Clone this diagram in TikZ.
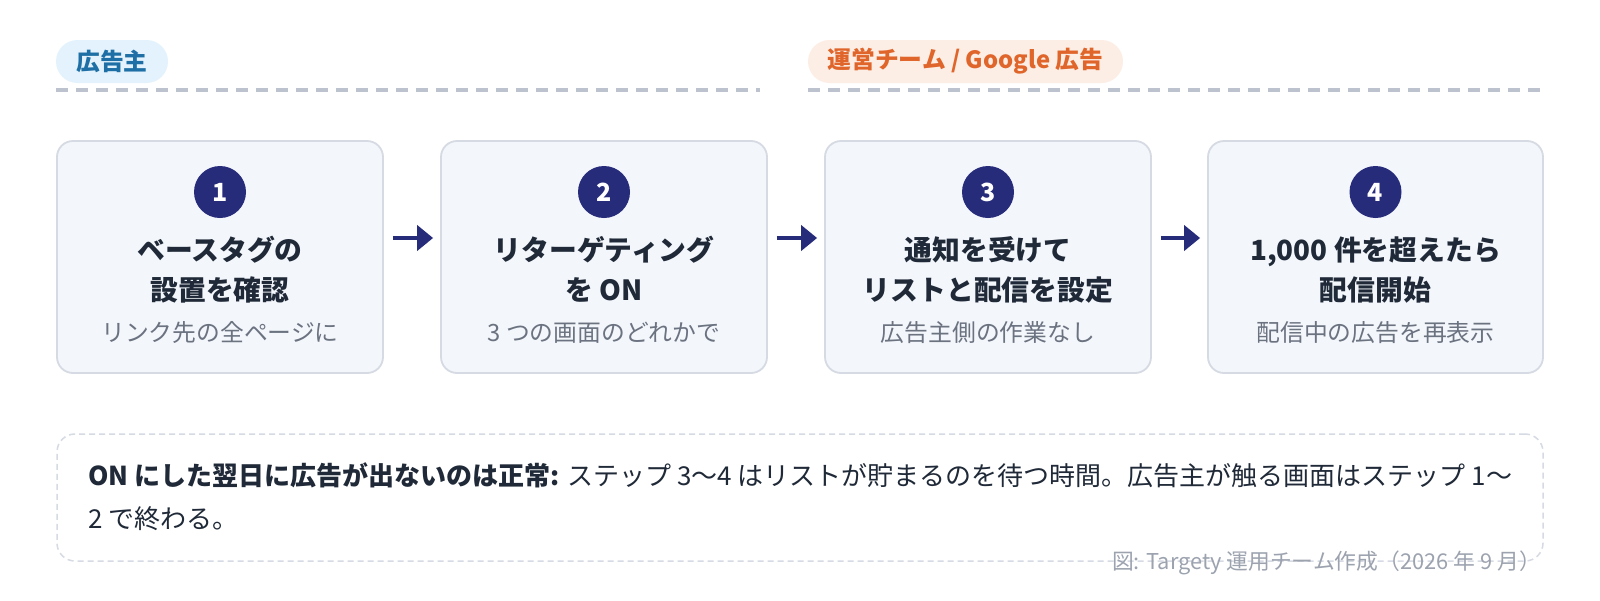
\documentclass[tikz,border=0pt]{standalone}
\usepackage{fontspec}
\setmainfont{Noto Sans CJK JP}
\usetikzlibrary{arrows.meta}
\definecolor{navy}{HTML}{262B7A}
\definecolor{ink}{HTML}{1F2937}
\definecolor{muted}{HTML}{6B7280}
\definecolor{capgray}{HTML}{9CA3AF}
\definecolor{boxfill}{HTML}{F3F6FB}
\definecolor{boxline}{HTML}{D5DAE3}
\definecolor{laneline}{HTML}{BCC3CE}
\definecolor{pillbluebg}{HTML}{E3F2FC}
\definecolor{pillbluetx}{HTML}{1D6FA5}
\definecolor{pillorgbg}{HTML}{FDEEE5}
\definecolor{pillorgtx}{HTML}{E0652B}
\tikzset{
  stepbox/.style={draw=boxline, line width=1.8pt, fill=boxfill, rounded corners=16pt,
    minimum height=232pt, inner sep=0pt},
  numdot/.style={circle, fill=navy, minimum size=52pt, inner sep=0pt, text=white,
    font=\bfseries\fontsize{25pt}{27pt}\selectfont},
  ttl/.style={anchor=base, text=ink, inner sep=0pt, font=\bfseries\fontsize{27.8pt}{30pt}\selectfont},
  subttl/.style={anchor=base, text=muted, inner sep=0pt, font=\fontsize{23.8pt}{26pt}\selectfont},
  flow/.style={draw=navy, line width=4pt, -{Triangle[length=16pt,width=25pt]}},
  pill/.style={rounded corners=21.5pt, minimum height=43pt, inner sep=0pt,
    font=\bfseries\fontsize{23.8pt}{26pt}\selectfont},
  laneline/.style={draw=laneline, line width=3.3pt, dash pattern=on 11.5pt off 8.5pt},
  notebox/.style={draw=boxline, line width=1.5pt, dash pattern=on 6pt off 4pt,
    rounded corners=18pt, minimum width=1486pt, minimum height=127pt, inner sep=0pt},
  notetext/.style={anchor=base west, text=ink, inner sep=0pt, font=\fontsize{26pt}{30pt}\selectfont},
}
\begin{document}
\begin{tikzpicture}[x=1pt,y=-1pt]
\useasboundingbox[fill=white] (0,0) rectangle (1600,600);

% lanes
\node[pill, fill=pillbluebg, text=pillbluetx, minimum width=112pt] (lane1) at (112,61.5) {広告主};
\node[pill, fill=pillorgbg, text=pillorgtx, minimum width=315pt] (lane2) at (965.5,61.5) {運営チーム / Google 広告};
\draw[laneline] (56,90) -- (760,90);
\draw[laneline] (808,90) -- (1543,90);

% step boxes
\node[stepbox, minimum width=326pt] (b1) at (220,257) {};
\node[stepbox, minimum width=326pt] (b2) at (604,257) {};
\node[stepbox, minimum width=326pt] (b3) at (988,257) {};
\node[stepbox, minimum width=335pt] (b4) at (1375.5,257) {};

\node[numdot] (n1) at (220,192) {1};
\node[numdot] (n2) at (604,192) {2};
\node[numdot] (n3) at (988,192) {3};
\node[numdot] (n4) at (1375.5,192) {4};

\node[ttl] (t1a) at (220,260.5) {ベースタグの};
\node[ttl] (t1b) at (220,300.5) {設置を確認};
\node[subttl] (s1) at (220,341.5) {リンク先の全ページに};

\node[ttl] (t2a) at (604,260.5) {リターゲティング};
\node[ttl] (t2b) at (604,300.5) {を ON};
\node[subttl] (s2) at (604,341.5) {3 つの画面のどれかで};

\node[ttl] (t3a) at (988,260.5) {通知を受けて};
\node[ttl] (t3b) at (988,300.5) {リストと配信を設定};
\node[subttl] (s3) at (988,341.5) {広告主側の作業なし};

\node[ttl] (t4a) at (1375.5,260.5) {1,000 件を超えたら};
\node[ttl] (t4b) at (1375.5,300.5) {配信開始};
\node[subttl] (s4) at (1375.5,341.5) {配信中の広告を再表示};

% arrows
\draw[flow] ([xshift=9pt,yshift=19pt]b1.east) -- ([xshift=-7pt,yshift=19pt]b2.west);
\draw[flow] ([xshift=9pt,yshift=19pt]b2.east) -- ([xshift=-7pt,yshift=19pt]b3.west);
\draw[flow] ([xshift=9pt,yshift=19pt]b3.east) -- ([xshift=-7pt,yshift=19pt]b4.west);

% note
\node[notebox] (note) at (800,497.5) {};
\node[notetext] (note1) at (88,485) {{\bfseries ON にした翌日に広告が出ないのは正常:} ステップ 3〜4 はリストが貯まるのを待つ時間。広告主が触る画面はステップ 1〜};
\node[notetext] (note2) at (88,528) {2 で終わる。};

% caption
\node[anchor=base east, text=capgray, inner sep=0pt, font=\fontsize{21.8pt}{24pt}\selectfont] (cap) at (1541,569.5) {図: Targety 運用チーム作成（2026 年 9 月）};
\end{tikzpicture}
\end{document}
